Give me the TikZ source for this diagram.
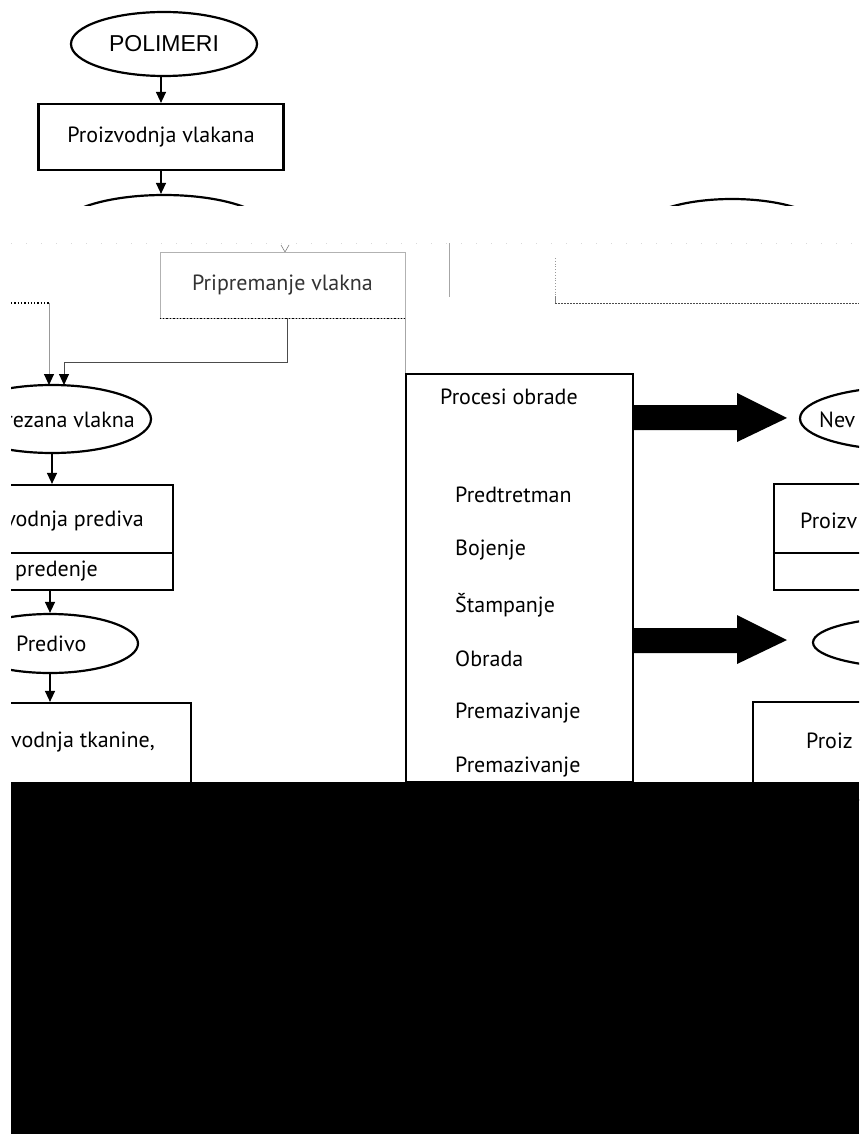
\documentclass[tikz,border=0pt]{standalone}
\usepackage{fontspec}
\setmainfont{PT Sans}
\newfontfamily\arialf{Liberation Sans}
\usetikzlibrary{shapes.geometric,arrows.meta}
\begin{document}
\begin{tikzpicture}[x=1pt,y=-1pt,
  box/.style={draw,line width=2.2pt,inner sep=0pt,rectangle},
  ell/.style={draw,line width=2.2pt,inner sep=0pt,ellipse},
  lbl/.style={inner sep=0pt,font=\fontsize{22}{26}\selectfont},
  arr/.style={line width=1.3pt,-{Triangle[length=11pt,width=10pt,color=black]}},
  ghost/.style={draw=black!35,line width=0.9pt}]
\useasboundingbox (0,0) rectangle (859,1134);
\fill[white] (0,0) rectangle (859,1134);
\begin{scope}
\clip (11,0) rectangle (859,1134);
% top part
\node[ell,minimum width=186pt,minimum height=64pt,font=\arialf\fontsize{23}{27}\selectfont] (pol) at (164,44) {POLIMERI};
\node[box,minimum width=245pt,minimum height=66pt,font=\fontsize{22}{26}\selectfont] (pv) at (161,137) {Proizvodnja vlakana};
\begin{scope}
\clip (0,0) rectangle (859,205);
\node[ell,minimum width=210pt,minimum height=68pt] (e1) at (164,229) {};
\node[ell,minimum width=192pt,minimum height=68pt] (e2) at (732,233) {};
\end{scope}
\draw[arr] (pv.north |- pol.south) -- (pv.north);
\draw[arr] (pv.south) -- (pv.south |- e1.north);

% faint band
\draw[black!15,line width=0.8pt,dash pattern=on 1pt off 14pt] (11,243) -- (859,243);
\coordinate (vtip) at (285,252);
\draw[black!50,line width=0.6pt] (281,245) -- (vtip) -- (289,245);

% Pripremanje vlakna
\node[draw=black!30,line width=0.8pt,minimum width=245pt,minimum height=66pt,inner sep=0pt,text=black!80,font=\fontsize{22}{26}\selectfont] (prip) at (282.5,285) {Pripremanje vlakna};
\draw[dotted,line width=1.4pt] (prip.south west) -- (prip.south east);

\draw[ghost] (449,243) -- (449,297);
\draw[black!40,dotted,line width=0.8pt] (555,258) -- (555,296);
\coordinate (dl) at (555,303);
\draw[black!50,line width=0.8pt] (555,296) -- (dl);
\draw[black!70,line width=1pt,dash pattern=on 2pt off 1pt] (dl) -- (859,303);

% Procesi obrade
\node[box,minimum width=227pt,minimum height=408pt] (proc) at (519.5,578) {};
\draw[ghost] (prip.south east) -- (prip.south east |- proc.north);
\node[lbl,anchor=west] (p0) at (440,397) {Procesi obrade};
\node[lbl,anchor=west] (p1) at (455,495) {Predtretman};
\node[lbl,anchor=west] (p2) at (455,550) {Bojenje};
\node[lbl,anchor=west] (p3) at (455,605) {Štampanje};
\node[lbl,anchor=west] (p4) at (455,659) {Obrada};
\node[lbl,anchor=west] (p5) at (455,713) {Premazivanje};
\node[lbl,anchor=west] (p6) at (455,767) {Premazivanje};

% left column
\node[ell,minimum width=198pt,minimum height=68pt] (rv) at (52,419) {};
\node[lbl,anchor=east] (rvt) at (135,420) {rezana vlakna};
\coordinate (lin) at (11,303);
\draw[dotted,line width=1.3pt] (lin) -- (49,303);
\draw[arr,draw=black!40,line width=0.9pt] (49,303) -- (49,385);
\draw[arr,draw=black!70,line width=1pt] (prip.south -| 287,0) |- (64,362) -- (64,385);

\node[box,minimum width=200pt,minimum height=105pt] (pred) at (73,537.5) {};
\draw[line width=2.2pt] (pred.west |- 0,553) -- (pred.east |- 0,553);
\node[lbl,anchor=east] (predt) at (144,521) {vodnja prediva};
\node[lbl,anchor=west] (predt2) at (15,571) {predenje};
\draw[arr] (rv.south) -- (rv.south |- pred.north);

\node[ell,minimum width=176pt,minimum height=59pt] (pdv) at (50,643.5) {};
\node[lbl,anchor=west] (pdvt) at (16,644) {Predivo};
\draw[arr] (pdv.north |- pred.south) -- (pdv.north);

\node[box,minimum width=221pt,minimum height=97pt] (tk) at (80.5,751.5) {};
\node[lbl,anchor=east] (tkt) at (155,742) {vodnja tkanine,};
\draw[arr] (pdv.south) -- (pdv.south |- tk.north);

% fat arrows
\fill (proc.east |- 0,405) -- (737,405) -- (737,393) -- (787,418) -- (737,442) -- (737,430) -- (proc.east |- 0,430) -- cycle;
\fill (proc.east |- 0,628) -- (737,628) -- (737,615) -- (787,640) -- (737,664) -- (737,653) -- (proc.east |- 0,653) -- cycle;

% right column
\node[ell,minimum width=210pt,minimum height=63pt] (nev) at (905,418.5) {};
\node[lbl,anchor=west] (nevt) at (819,420) {Nev};
\node[box,minimum width=185pt,minimum height=106pt] (rb) at (866.5,537) {};
\draw[line width=2.2pt] (rb.west |- 0,553) -- (rb.east |- 0,553);
\node[lbl,anchor=west] (rbt) at (800,521) {Proizv};
\node[ell,minimum width=210pt,minimum height=51pt] (re) at (918,642.5) {};
\node[box,minimum width=206pt,minimum height=98pt] (rb2) at (856,751) {};
\node[lbl,anchor=west] (rb2t) at (806,741) {Proiz};

% black block
\fill (11,782) rectangle (859,1134);
\end{scope}
\end{tikzpicture}
\end{document}
